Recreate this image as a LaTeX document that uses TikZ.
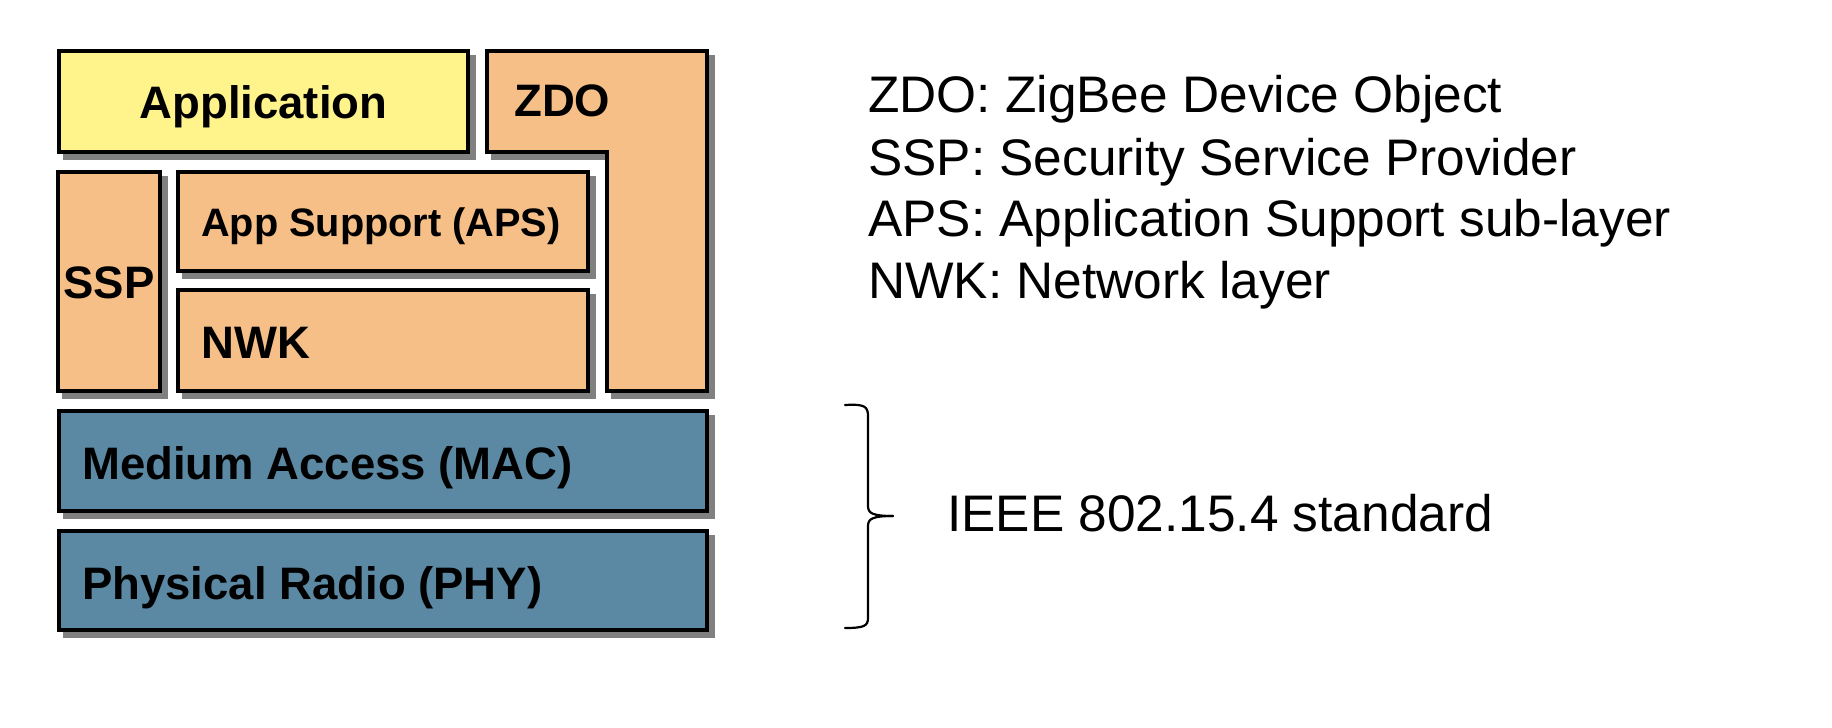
\documentclass[tikz,border=0pt]{standalone}
\usepackage{fontspec}
\setmainfont{Liberation Sans}
\definecolor{appyellow}{HTML}{FFF38C}
\definecolor{layerorange}{HTML}{F6BF88}
\definecolor{layerblue}{HTML}{5B88A2}
\definecolor{shadowgray}{HTML}{808080}
\tikzset{
  layerbox/.style={draw=black, line width=4pt, line join=miter},
  shadowbox/.style={fill=shadowgray, draw=shadowgray, line width=4pt, shift={(6,6)}},
  boxtext/.style={inner sep=0pt, font=\fontsize{45.5}{50}\selectfont\bfseries},
  smalltext/.style={inner sep=0pt, font=\fontsize{39.7}{44}\selectfont\bfseries},
  legendtext/.style={inner sep=0pt, anchor=base west, font=\fontsize{51.4}{60}\selectfont},
  bracepath/.style={draw=black, line width=2.2pt, line cap=round}
}
\begin{document}
\begin{tikzpicture}[x=1pt,y=-1pt]
\useasboundingbox (0,0) rectangle (1832,728);
% shadows
\path[shadowbox] (59,51) rectangle (468,152);
\path[shadowbox] (487,51) -- (707,51) -- (707,391) -- (607,391) -- (607,152) -- (487,152) -- cycle;
\path[shadowbox] (58,172) rectangle (160,391);
\path[shadowbox] (178,172) rectangle (588,271);
\path[shadowbox] (178,290) rectangle (588,391);
\path[shadowbox] (59,411) rectangle (707,511);
\path[shadowbox] (59,531) rectangle (707,630);
% boxes
\path[layerbox, fill=appyellow] (59,51) rectangle (468,152);
\path[layerbox, fill=layerorange] (487,51) -- (707,51) -- (707,391) -- (607,391) -- (607,152) -- (487,152) -- cycle;
\path[layerbox, fill=layerorange] (58,172) rectangle (160,391);
\path[layerbox, fill=layerorange] (178,172) rectangle (588,271);
\path[layerbox, fill=layerorange] (178,290) rectangle (588,391);
\path[layerbox, fill=layerblue] (59,411) rectangle (707,511);
\path[layerbox, fill=layerblue] (59,531) rectangle (707,630);
% box labels
\node[boxtext, anchor=base] (app) at (263.5,118) {Application};
\node[boxtext, anchor=base west] (zdo) at (514,116.5) {ZDO};
\node[boxtext, anchor=base] (ssp) at (109,298) {SSP};
\node[smalltext, anchor=base west] (aps) at (201,236) {App Support (APS)};
\node[boxtext, anchor=base west] (nwk) at (201,358) {NWK};
\node[boxtext, anchor=base west] (mac) at (82,479) {Medium Access (MAC)};
\node[boxtext, anchor=base west] (phy) at (82,599) {Physical Radio (PHY)};
% legend
\node[legendtext] (lzdo) at (868,112.5) {ZDO: ZigBee Device Object};
\node[legendtext] (lssp) at (868,175) {SSP: Security Service Provider};
\node[legendtext] (laps) at (868,236) {APS: Application Support sub-layer};
\node[legendtext] (lnwk) at (868,298.5) {NWK: Network layer};
% brace
\coordinate (btop) at (845,405);
\coordinate (btip) at (893,516);
\coordinate (bbot) at (845,628);
\draw[bracepath] (btop) .. controls (864,404) and (868,406) .. (868,416) -- (868,506) .. controls (868,513) and (872,516) .. (btip);
\draw[bracepath] (btip) .. controls (872,516) and (868,519) .. (868,526) -- (868,618) .. controls (868,626) and (864,628) .. (bbot);
\node[legendtext] (ieee) at (947,531) {IEEE 802.15.4 standard};
\end{tikzpicture}
\end{document}
